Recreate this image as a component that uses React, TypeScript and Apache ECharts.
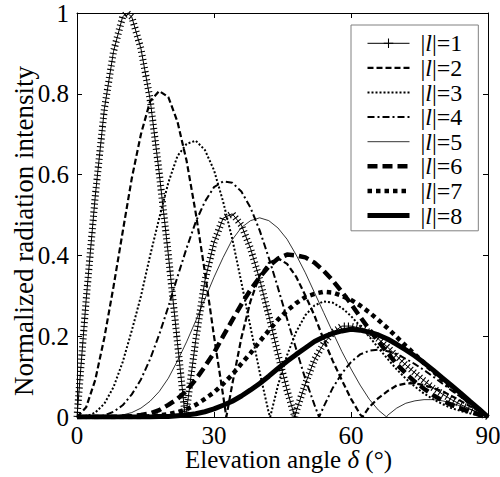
import React, { useEffect, useRef } from 'react';
import * as echarts from 'echarts';

// Elevation angle grid (degrees)
const angles = [0, 2, 4, 6, 8, 10, 12, 14, 16, 18, 20, 22, 24, 26, 28, 30, 32, 34, 36, 38, 40, 42, 44, 46, 48, 50, 52, 54, 56, 58, 60, 62, 64, 66, 68, 70, 72, 74, 76, 78, 80, 82, 84, 86, 88, 90];

// Normalized radiation intensity read for each |l|
const l1Values = [0, 0.289, 0.547, 0.763, 0.905, 0.991, 0.990, 0.912, 0.787, 0.605, 0.402, 0.184, 0.017, 0.190, 0.337, 0.432, 0.492, 0.503, 0.475, 0.417, 0.341, 0.251, 0.156, 0.066, 0.014, 0.082, 0.142, 0.181, 0.209, 0.225, 0.225, 0.220, 0.210, 0.193, 0.173, 0.151, 0.129, 0.109, 0.090, 0.072, 0.057, 0.043, 0.031, 0.020, 0.010, 0];
const l2Values = [0, 0.024, 0.092, 0.197, 0.323, 0.458, 0.591, 0.700, 0.781, 0.807, 0.792, 0.731, 0.634, 0.505, 0.359, 0.200, 0.053, 0.081, 0.196, 0.287, 0.350, 0.381, 0.393, 0.379, 0.347, 0.301, 0.251, 0.192, 0.139, 0.091, 0.045, 0.0065, 0.0245, 0.047, 0.064, 0.078, 0.083, 0.083, 0.079, 0.072, 0.064, 0.052, 0.040, 0.027, 0.014, 0];
const l3Values = [0, 0.001, 0.011, 0.033, 0.074, 0.136, 0.214, 0.299, 0.399, 0.492, 0.580, 0.646, 0.676, 0.684, 0.661, 0.611, 0.533, 0.441, 0.333, 0.222, 0.111, 0.010, 0.078, 0.153, 0.211, 0.252, 0.276, 0.286, 0.283, 0.270, 0.250, 0.225, 0.199, 0.171, 0.144, 0.118, 0.095, 0.075, 0.058, 0.044, 0.032, 0.022, 0.015, 0.009, 0.004, 0];
const l4Values = [0, 0, 0.001, 0.004, 0.013, 0.029, 0.056, 0.093, 0.143, 0.204, 0.273, 0.347, 0.418, 0.483, 0.533, 0.569, 0.583, 0.580, 0.558, 0.518, 0.462, 0.394, 0.320, 0.243, 0.168, 0.094, 0.030, 0.025, 0.072, 0.108, 0.136, 0.155, 0.164, 0.167, 0.163, 0.156, 0.144, 0.131, 0.116, 0.100, 0.083, 0.066, 0.050, 0.033, 0.016, 0];
const l5Values = [0, 0, 0, 0, 0, 0.005, 0.011, 0.022, 0.039, 0.063, 0.096, 0.139, 0.186, 0.238, 0.292, 0.346, 0.395, 0.439, 0.469, 0.486, 0.493, 0.486, 0.468, 0.440, 0.401, 0.357, 0.308, 0.259, 0.210, 0.162, 0.119, 0.079, 0.044, 0.017, 0.004, 0.022, 0.034, 0.040, 0.043, 0.043, 0.040, 0.035, 0.027, 0.019, 0.010, 0];
const l6Values = [0, 0, 0, 0, 0, 0.001, 0.002, 0.005, 0.009, 0.017, 0.030, 0.045, 0.065, 0.093, 0.125, 0.159, 0.200, 0.240, 0.279, 0.315, 0.346, 0.373, 0.392, 0.402, 0.400, 0.395, 0.382, 0.362, 0.338, 0.310, 0.280, 0.248, 0.217, 0.187, 0.159, 0.131, 0.108, 0.087, 0.070, 0.054, 0.041, 0.030, 0.021, 0.013, 0.006, 0];
const l7Values = [0, 0, 0, 0, 0, 0, 0, 0, 0.002, 0.004, 0.007, 0.012, 0.019, 0.030, 0.045, 0.061, 0.082, 0.105, 0.132, 0.158, 0.187, 0.214, 0.241, 0.263, 0.282, 0.297, 0.305, 0.310, 0.308, 0.300, 0.290, 0.276, 0.259, 0.240, 0.220, 0.198, 0.176, 0.155, 0.133, 0.113, 0.092, 0.072, 0.054, 0.035, 0.018, 0];
const l8Values = [0, 0, 0, 0, 0, 0, 0, 0, 0, 0.001, 0.001, 0.003, 0.005, 0.008, 0.013, 0.020, 0.029, 0.039, 0.052, 0.067, 0.083, 0.101, 0.120, 0.138, 0.155, 0.171, 0.187, 0.198, 0.207, 0.213, 0.217, 0.215, 0.210, 0.203, 0.193, 0.180, 0.166, 0.151, 0.134, 0.116, 0.097, 0.078, 0.059, 0.039, 0.020, 0];

// Extra points: main peak and the nulls [angle, value]
const l1Extra = [[11, 1.0], [23.7, 0], [47.7, 0]];
const l2Extra = [[32.7, 0], [62.5, 0]];
const l3Extra = [[42.3, 0]];
const l4Extra = [[53.0, 0]];
const l5Extra = [[67.8, 0]];
const l6Extra: number[][] = [];
const l7Extra: number[][] = [];
const l8Extra: number[][] = [];

const modes = ['1', '2', '3', '4', '5', '6', '7', '8'];
const xTickStep = 30;
const yTickStep = 0.2;

const FONT = 'Liberation Serif';
const PLUS = 'path://M0 4.45H10V5.55H0Z M4.45 0H5.55V10H4.45Z';

function buildData(values: number[], extra: number[][]) {
  const pts: number[][] = angles.map((a, i) => [a, values[i]]);
  extra.forEach((p) => pts.push([p[0], p[1]]));
  pts.sort((a, b) => a[0] - b[0]);
  return pts;
}

const seriesData = [
  buildData(l1Values, l1Extra),
  buildData(l2Values, l2Extra),
  buildData(l3Values, l3Extra),
  buildData(l4Values, l4Extra),
  buildData(l5Values, l5Extra),
  buildData(l6Values, l6Extra),
  buildData(l7Values, l7Extra),
  buildData(l8Values, l8Extra),
];

const lineStyles: { width: number; type: any }[] = [
  { width: 1, type: 'solid' },
  { width: 2.2, type: [6, 3] },
  { width: 2, type: [2, 2] },
  { width: 2, type: [7, 3, 2, 3] },
  { width: 0.8, type: 'solid' },
  { width: 4.5, type: [10, 5] },
  { width: 4.5, type: [4.5, 4] },
  { width: 5, type: 'solid' },
];

export default function App() {
  const ref = useRef<HTMLDivElement>(null);
  useEffect(() => {
    if (!ref.current) return;
    const chart = echarts.init(ref.current, undefined, { renderer: 'svg' });
    const names = modes.map((m) => 'l' + m);
    const series: any[] = [];
    series.push({
      name: 'l1band',
      type: 'line',
      data: seriesData[0],
      symbol: 'none',
      lineStyle: { color: '#000', width: 7, type: [1.1, 3] },
      silent: true,
      z: 2,
    });
    names.forEach((n, i) => {
      series.push({
        name: n,
        type: 'line',
        data: seriesData[i],
        symbol: i === 0 ? PLUS : 'circle',
        symbolSize: 9,
        showSymbol: false,
        itemStyle: { color: '#000' },
        lineStyle: { color: '#000', width: lineStyles[i].width, type: lineStyles[i].type },
        z: 3 + i,
      });
    });
    const axisCommon = {
      type: 'value',
      nameMoveOverlap: false,
      axisLine: { show: true, onZero: false, lineStyle: { color: '#000', width: 1 } },
      axisTick: { show: true, inside: true, length: 5, lineStyle: { color: '#000', width: 1 } },
      splitLine: { show: false },
    };
    const txt = { fontFamily: FONT, fontSize: 24, color: '#000', lineHeight: 24.6 };
    chart.setOption({
      animation: false,
      backgroundColor: '#fff',
      grid: { left: 77, right: 12, top: 13, bottom: 60, outerBoundsMode: 'none', containLabel: false },
      xAxis: [
        {
          ...axisCommon,
          position: 'bottom',
          min: 0,
          max: 90,
          interval: xTickStep,
          axisLabel: { color: '#000', fontFamily: FONT, fontSize: 25, margin: 6 },
          name: '{n|Elevation angle }{i|δ}{n| (°)}',
          nameLocation: 'middle',
          nameGap: 30,
          nameTextStyle: {
            color: '#000',
            fontFamily: FONT,
            fontSize: 25,
            padding: [0, 0, 0, 12],
            rich: {
              n: { fontFamily: FONT, fontSize: 25, color: '#000' },
              i: { fontFamily: FONT, fontSize: 25, color: '#000', fontStyle: 'italic' },
            },
          },
        },
        {
          ...axisCommon,
          position: 'top',
          min: 0,
          max: 90,
          interval: xTickStep,
          axisLabel: { show: false },
        },
      ],
      yAxis: [
        {
          ...axisCommon,
          position: 'left',
          min: 0,
          max: 1,
          interval: yTickStep,
          axisLabel: { color: '#000', fontFamily: FONT, fontSize: 25, margin: 8 },
          name: 'Normalized radiation intensity',
          nameLocation: 'middle',
          nameGap: 40,
          nameTextStyle: { color: '#000', fontFamily: FONT, fontSize: 27, padding: [0, 32, 0, 0] },
        },
        {
          ...axisCommon,
          position: 'right',
          min: 0,
          max: 1,
          interval: yTickStep,
          axisLabel: { show: false },
        },
      ],
      legend: {
        data: names.map((n, i) => (i === 0 ? { name: n } : { name: n, itemStyle: { opacity: 0 } })),
        orient: 'vertical',
        left: 351,
        top: 25,
        itemWidth: 42,
        itemHeight: 12,
        itemGap: 0,
        padding: [6, 16, 3, 14],
        borderColor: '#808080',
        borderWidth: 1,
        backgroundColor: '#fff',
        selectedMode: false,
        lineStyle: { width: 'inherit' },
        formatter: (name: string) => '{b||}{i|l}{b||=' + name.slice(1) + '}',
        textStyle: {
          ...txt,
          padding: [0, 0, 0, 6],
          rich: {
            b: { ...txt },
            i: { ...txt, fontStyle: 'italic' },
          },
        },
        z: 10,
      },
      series,
    });
    return () => chart.dispose();
  }, []);
  return <div ref={ref} style={{ position: 'absolute', left: 0, top: 0, width: 500, height: 477 }} />;
}
